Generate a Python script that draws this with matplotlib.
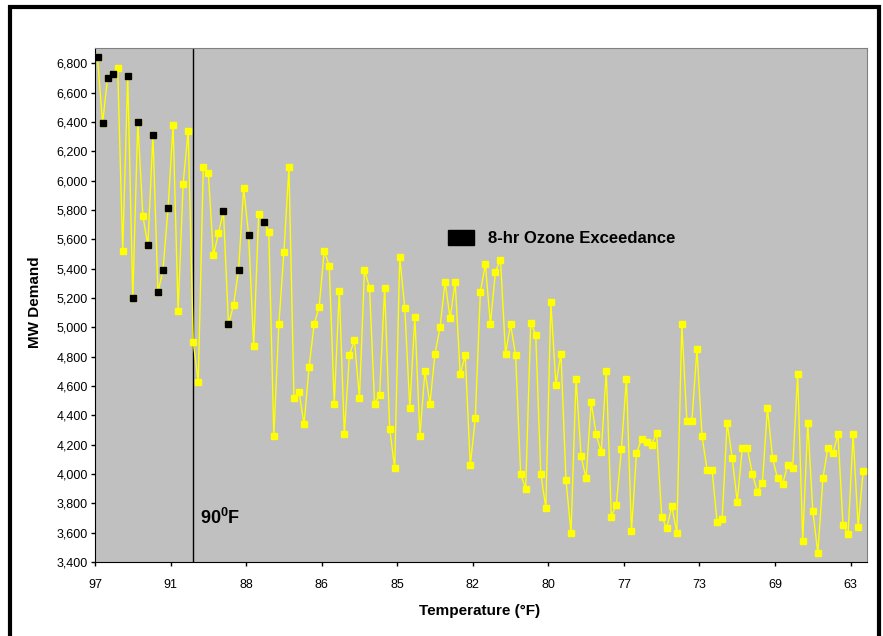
import matplotlib
matplotlib.use("Agg")
import matplotlib.pyplot as plt
from matplotlib.patches import Patch, Rectangle
from matplotlib.ticker import FuncFormatter

plt.rcParams['font.family'] = ['Liberation Sans', 'DejaVu Sans']
plt.rcParams['mathtext.fontset'] = 'custom'
plt.rcParams['mathtext.bf'] = 'Liberation Sans:bold'
plt.rcParams['mathtext.rm'] = 'Liberation Sans'

# daily peak demand (MW), sorted from hottest to coolest day
mw_demand = [6840, 6390, 6700, 6730, 6770, 5520, 6710, 5200, 6400, 5760,
             5560, 6310, 5240, 5390, 5810, 6380, 5110, 5980, 6340, 4900,
             4630, 6090, 6050, 5490, 5640, 5790, 5020, 5150, 5390, 5950,
             5630, 4870, 5770, 5720, 5650, 4260, 5020, 5510, 6090, 4520,
             4560, 4340, 4730, 5020, 5140, 5520, 5420, 4480, 5250, 4270,
             4810, 4910, 4520, 5390, 5270, 4480, 4540, 5270, 4310, 4040,
             5480, 5130, 4450, 5070, 4260, 4700, 4480, 4820, 5000, 5310,
             5060, 5310, 4680, 4810, 4060, 4380, 5240, 5430, 5020, 5380,
             5460, 4820, 5020, 4810, 4000, 3900, 5030, 4950, 4000, 3770,
             5170, 4610, 4820, 3960, 3600, 4650, 4120, 3970, 4490, 4270,
             4150, 4700, 3710, 3790, 4170, 4650, 3610, 4140, 4240, 4220,
             4200, 4280, 3710, 3630, 3780, 3600, 5020, 4360, 4360, 4850,
             4260, 4030, 4030, 3670, 3690, 4350, 4110, 3810, 4180, 4180,
             4000, 3880, 3940, 4450, 4110, 3970, 3930, 4060, 4040, 4680,
             3540, 4350, 3750, 3460, 3970, 4180, 4140, 4270, 3650, 3590,
             4270, 3640, 4020]
# days with an 8-hr ozone exceedance (positions in the list above)
ozone_days = [0, 1, 2, 3, 6, 7, 8, 10, 11, 12, 13, 14, 25, 26, 28, 30, 33]
temp_labels = ['97', '91', '88', '86', '85', '82', '80', '77', '73', '69', '63']
label_every = 15
line_90F = 19

x = list(range(len(mw_demand)))
ox = ozone_days
oy = [mw_demand[i] for i in ozone_days]

fig = plt.figure(figsize=(8.83, 6.36), dpi=100)
ax = fig.add_axes([95/883, 1-562/636, (866.7-95)/883, (562-48)/636])
ax.set_facecolor('#C0C0C0')

ax.plot(x, mw_demand, '-s', color='#FFFF00', lw=1, ms=4.2,
        mec='#FFFF00', mfc='#FFFF00', zorder=3)
ax.plot(ox, oy, 's', color='black', ms=4.2, ls='none', zorder=4)
ax.axvline(line_90F, color='black', lw=1, zorder=2)
ax.text(line_90F + 1.3, 3700, r'$\mathbf{90^{0}F}$', fontsize=13,
        va='center', ha='left')

ax.set_xlim(-0.5, len(mw_demand) - 0.3)
ax.set_ylim(3400, 6904)
ax.set_yticks(range(3400, 6801, 200))
ax.yaxis.set_major_formatter(FuncFormatter(lambda v, p: '{:,.0f}'.format(v)))
ax.set_xticks([k*label_every - 0.5 for k in range(len(temp_labels))])
ax.set_xticklabels(temp_labels)
ax.tick_params(axis='both', labelsize=9, length=3, width=1, color='black')
ax.tick_params(axis='x', pad=9)
ax.tick_params(axis='y', pad=2)

for s in ['top', 'right']:
    ax.spines[s].set_color('#808080')
for s in ['left', 'bottom']:
    ax.spines[s].set_color('black')

leg = ax.legend(handles=[Patch(facecolor='black', edgecolor='black')],
                labels=['8-hr Ozone Exceedance'], frameon=False,
                prop={'weight': 'bold', 'size': 12},
                handlelength=1.55, handleheight=1.0, handletextpad=0.85,
                borderpad=0, borderaxespad=0, loc='center left',
                bbox_to_anchor=(448/883, 1-238/636),
                bbox_transform=fig.transFigure)

fig.text(480/883, 1-611/636, 'Temperature (°F)', ha='center', va='center',
         fontsize=11, weight='bold')
fig.text(35/883, 1-302/636, 'MW Demand', ha='center', va='center',
         fontsize=11, weight='bold', rotation=90)

# black frame round the chart (its bottom edge runs off the picture)
fig.patches.append(Rectangle((10/883, -20/636), 869/883, 649/636,
                             transform=fig.transFigure, fill=False,
                             edgecolor='black', lw=3, clip_on=False))

fig.savefig('out.png', dpi=100)
